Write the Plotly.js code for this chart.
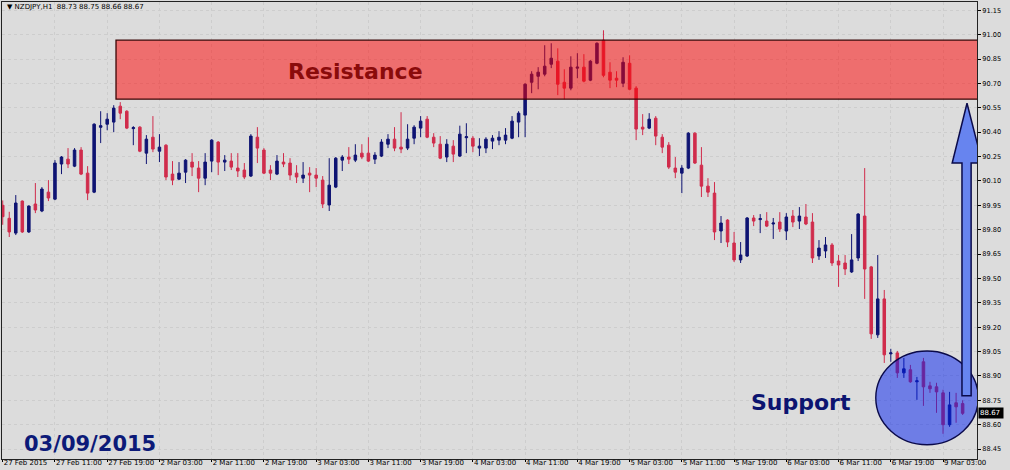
<!DOCTYPE html>
<html>
<head>
<meta charset="utf-8">
<script src="https://cdn.plot.ly/plotly-3.0.1.min.js"></script>
<style>
  html, body { margin: 0; padding: 0; background: #dcdcdc; }
  #chart { width: 1010px; height: 470px; }
</style>
</head>
<body>
<div id="chart"></div>
<script>
// NZDJPY H1 candles, 27 Feb 2015 03:00 -> 9 Mar 2015 06:00
const openP = [
  89.95, 89.87, 89.779, 89.976, 89.786, 89.958, 89.915, 90.031, 89.988, 90.204,
  90.234, 90.191, 90.29, 90.148, 90.031, 90.43, 90.449, 90.462, 90.56, 90.529,
  90.422, 90.431, 90.271, 90.369, 90.283, 90.32, 90.142, 90.111, 90.154, 90.216,
  90.179, 90.117, 90.222, 90.339, 90.216, 90.222, 90.179, 90.167, 90.13, 90.369,
  90.29, 90.167, 90.142, 90.216, 90.21, 90.148, 90.117, 90.148, 90.136, 90.105,
  89.952, 90.062, 90.228, 90.247, 90.228, 90.271, 90.271, 90.234, 90.253, 90.326,
  90.357, 90.308, 90.302, 90.363, 90.425, 90.48, 90.369, 90.326, 90.247, 90.314,
  90.253, 90.366, 90.363, 90.302, 90.302, 90.345, 90.351, 90.351, 90.363, 90.462,
  90.505, 90.707, 90.744, 90.757, 90.818, 90.837, 90.707, 90.671, 90.794, 90.80,
  90.72, 90.824, 90.966, 90.769, 90.732, 90.701, 90.824, 90.671, 90.431, 90.425,
  90.486, 90.369, 90.32, 90.179, 90.148, 90.179, 90.394, 90.197, 90.068, 90.025,
  89.792, 89.859, 89.718, 89.614, 89.638, 89.872, 89.862, 89.853, 89.835, 89.847,
  89.792, 89.884, 89.853, 89.878, 89.847, 89.638, 89.669, 89.706, 89.607, 89.595,
  89.54, 89.626, 89.884, 89.571, 89.153, 89.374, 89.036, 89.042, 88.919, 88.938,
  88.864, 88.987, 88.839, 88.833, 88.796, 88.60, 88.735, 88.73
];
const highP = [
  89.98, 89.91, 90.013, 89.98, 89.95, 90.087, 90.062, 90.105, 90.228, 90.253,
  90.302, 90.302, 90.308, 90.191, 90.455, 90.529, 90.517, 90.566, 90.585, 90.535,
  90.437, 90.437, 90.382, 90.499, 90.388, 90.326, 90.222, 90.216, 90.234, 90.271,
  90.222, 90.271, 90.357, 90.345, 90.259, 90.271, 90.271, 90.21, 90.388, 90.431,
  90.302, 90.197, 90.259, 90.271, 90.24, 90.197, 90.216, 90.185, 90.179, 90.13,
  90.24, 90.247, 90.259, 90.308, 90.326, 90.326, 90.369, 90.277, 90.357, 90.388,
  90.431, 90.523, 90.449, 90.443, 90.499, 90.499, 90.394, 90.376, 90.357, 90.351,
  90.44, 90.455, 90.376, 90.363, 90.369, 90.382, 90.406, 90.425, 90.499, 90.529,
  90.701, 90.775, 90.80, 90.935, 90.947, 90.916, 90.787, 90.867, 90.886, 90.88,
  90.843, 90.953, 91.027, 90.83, 90.775, 90.861, 90.873, 90.683, 90.511, 90.517,
  90.499, 90.388, 90.339, 90.247, 90.197, 90.40, 90.40, 90.308, 90.117, 90.093,
  89.884, 89.865, 89.786, 89.724, 89.878, 89.89, 89.896, 89.908, 89.872, 89.908,
  89.902, 89.921, 89.939, 89.958, 89.902, 89.736, 89.755, 89.718, 89.644, 89.644,
  89.773, 89.902, 90.179, 89.577, 89.644, 89.429, 89.067, 89.054, 89.011, 88.968,
  88.894, 89.011, 88.864, 88.858, 88.815, 88.802, 88.796, 88.75
];
const lowP = [
  89.83, 89.755, 89.767, 89.78, 89.78, 89.902, 89.908, 89.976, 89.982, 90.142,
  90.179, 90.185, 90.136, 89.982, 90.025, 90.333, 90.412, 90.40, 90.48, 90.419,
  90.32, 90.277, 90.204, 90.277, 90.216, 90.105, 90.074, 90.105, 90.087, 90.13,
  90.031, 90.074, 90.154, 90.136, 90.161, 90.167, 90.124, 90.111, 90.124, 90.21,
  90.142, 90.105, 90.136, 90.185, 90.105, 90.087, 90.087, 90.031, 90.062, 89.933,
  89.915, 90.056, 90.161, 90.204, 90.216, 90.234, 90.216, 90.204, 90.247, 90.302,
  90.283, 90.271, 90.29, 90.326, 90.369, 90.363, 90.308, 90.234, 90.216, 90.216,
  90.247, 90.271, 90.277, 90.253, 90.271, 90.296, 90.32, 90.326, 90.357, 90.369,
  90.369, 90.64, 90.664, 90.744, 90.794, 90.628, 90.603, 90.658, 90.732, 90.707,
  90.714, 90.818, 90.738, 90.671, 90.677, 90.677, 90.658, 90.351, 90.382, 90.419,
  90.32, 90.271, 90.173, 90.117, 90.025, 90.173, 90.204, 90.001, 90.001, 89.736,
  89.718, 89.693, 89.601, 89.595, 89.632, 89.822, 89.779, 89.816, 89.743, 89.786,
  89.736, 89.816, 89.804, 89.828, 89.595, 89.614, 89.626, 89.577, 89.448, 89.521,
  89.534, 89.607, 89.374, 89.128, 89.134, 88.98, 88.987, 88.888, 88.888, 88.858,
  88.753, 88.716, 88.796, 88.673, 88.544, 88.587, 88.612, 88.66
];
const closeP = [
  89.88, 89.786, 89.964, 89.786, 89.945, 89.921, 90.05, 89.995, 90.21, 90.247,
  90.204, 90.29, 90.142, 90.025, 90.449, 90.44, 90.48, 90.548, 90.517, 90.425,
  90.428, 90.283, 90.357, 90.296, 90.308, 90.124, 90.105, 90.148, 90.228, 90.185,
  90.117, 90.216, 90.351, 90.216, 90.228, 90.185, 90.161, 90.124, 90.376, 90.302,
  90.148, 90.148, 90.222, 90.204, 90.136, 90.124, 90.136, 90.136, 90.117, 89.958,
  90.074, 90.24, 90.247, 90.234, 90.259, 90.247, 90.222, 90.259, 90.339, 90.357,
  90.302, 90.296, 90.357, 90.431, 90.468, 90.369, 90.333, 90.24, 90.326, 90.265,
  90.388, 90.372, 90.314, 90.314, 90.357, 90.363, 90.369, 90.382, 90.468, 90.517,
  90.695, 90.757, 90.769, 90.806, 90.855, 90.695, 90.671, 90.80, 90.80, 90.714,
  90.837, 90.947, 90.75, 90.72, 90.72, 90.83, 90.664, 90.419, 90.419, 90.48,
  90.376, 90.308, 90.185, 90.154, 90.179, 90.394, 90.21, 90.068, 90.031, 89.786,
  89.841, 89.724, 89.614, 89.644, 89.872, 89.853, 89.868, 89.822, 89.841, 89.804,
  89.878, 89.847, 89.884, 89.835, 89.626, 89.687, 89.706, 89.595, 89.583, 89.558,
  89.614, 89.896, 89.558, 89.159, 89.374, 89.03, 89.042, 88.919, 88.944, 88.864,
  88.87, 88.833, 88.821, 88.802, 88.60, 88.722, 88.71, 88.67
];

// time axis labels (every 8 hourly bars)
const timeTickIndex = [0, 8, 16, 24, 32, 40, 48, 56, 64, 72, 80, 88, 96, 104, 112, 120, 128, 136, 144];
const timeTickLabels = ['27 Feb 2015', '27 Feb 11:00', '27 Feb 19:00', '2 Mar 03:00', '2 Mar 11:00',
  '2 Mar 19:00', '3 Mar 03:00', '3 Mar 11:00', '3 Mar 19:00', '4 Mar 03:00', '4 Mar 11:00',
  '4 Mar 19:00', '5 Mar 03:00', '5 Mar 11:00', '5 Mar 19:00', '6 Mar 03:00', '6 Mar 11:00',
  '6 Mar 19:00', '9 Mar 03:00'];

// price axis labels
const priceTicks = [88.45, 88.60, 88.75, 88.90, 89.05, 89.20, 89.35, 89.50, 89.65, 89.80,
  89.95, 90.10, 90.25, 90.40, 90.55, 90.70, 90.85, 91.00, 91.15];
const priceTickLabels = ['88.45', '88.60', '88.75', '88.90', '89.05', '89.20', '89.35', '89.50',
  '89.65', '89.80', '89.95', '90.10', '90.25', '90.40', '90.55', '90.70', '90.85', '91.00', '91.15'];

// drawn zones
const resistanceZone = { fromBar: 17.35, low: 90.603, high: 90.966 };
const supportZone = { fromBar: 133.7, toBar: 149.4, low: 88.477, high: 89.054 };
const arrowGeom = { shaftL: 146.9, shaftR: 148.3, headL: 145.4, headR: 150.0, tipX: 147.67,
  base: 88.778, headBase: 90.21, tip: 90.578 };

const barIndex = openP.map((_, i) => i);
const last = openP.length - 1;

const BLUE = '#0f1473';
const RED = '#d02c4c';

const trace = {
  type: 'candlestick',
  x: barIndex,
  open: openP, high: highP, low: lowP, close: closeP,
  increasing: { line: { color: BLUE, width: 1 }, fillcolor: BLUE },
  decreasing: { line: { color: RED, width: 1 }, fillcolor: RED },
  whiskerwidth: 0,
  hoverinfo: 'skip',
  showlegend: false
};

const a = arrowGeom;
const arrowPath = `M ${a.shaftL},${a.base} L ${a.shaftL},${a.headBase} L ${a.headL},${a.headBase} ` +
  `L ${a.tipX},${a.tip} L ${a.headR},${a.headBase} L ${a.shaftR},${a.headBase} L ${a.shaftR},${a.base} Z`;

const f = v => v.toFixed(2);

const layout = {
  width: 1010, height: 470,
  margin: { l: 2, r: 33, t: 2, b: 11, pad: 0 },
  paper_bgcolor: '#dcdcdc',
  plot_bgcolor: '#dcdcdc',
  showlegend: false,
  boxgap: 0.45,
  hovermode: false,
  font: { family: 'DejaVu Sans', size: 7, color: '#000' },
  xaxis: {
    type: 'linear',
    range: [-0.11, 149.2],
    rangeslider: { visible: false },
    tickvals: timeTickIndex,
    ticktext: timeTickLabels,
    tickangle: 0,
    ticks: 'outside', ticklen: 2, tickcolor: '#000', tickwidth: 1,
    ticklabelposition: 'outside right',
    ticklabelstandoff: -3,
    tickfont: { family: 'DejaVu Sans', size: 7, color: '#000' },
    showgrid: true, gridcolor: '#cdcdcd', griddash: 'dot', gridwidth: 1,
    showline: true, linecolor: '#222', linewidth: 1, mirror: true,
    zeroline: false, fixedrange: true, automargin: false
  },
  yaxis: {
    side: 'right',
    range: [88.389, 91.201],
    tickvals: priceTicks,
    ticktext: priceTickLabels,
    ticks: 'outside', ticklen: 3, tickcolor: '#000', tickwidth: 1,
    tickfont: { family: 'DejaVu Sans', size: 6.6, color: '#000' },
    showgrid: true, gridcolor: '#cdcdcd', griddash: 'dot', gridwidth: 1,
    showline: true, linecolor: '#222', linewidth: 1, mirror: true,
    zeroline: false, fixedrange: true, automargin: false
  },
  shapes: [
    { type: 'rect', xref: 'x', yref: 'y', layer: 'above',
      x0: resistanceZone.fromBar, x1: 150, y0: resistanceZone.low, y1: resistanceZone.high,
      fillcolor: 'rgba(255,0,0,0.5)', line: { color: '#3a0606', width: 1.3 } },
    { type: 'circle', xref: 'x', yref: 'y', layer: 'above',
      x0: supportZone.fromBar, x1: supportZone.toBar, y0: supportZone.low, y1: supportZone.high,
      fillcolor: 'rgba(0,30,240,0.5)', line: { color: '#0a0a4a', width: 1.4 } },
    { type: 'path', xref: 'x', yref: 'y', layer: 'above', path: arrowPath,
      fillcolor: '#6784ef', line: { color: '#0a0a4a', width: 1.5 } }
  ],
  annotations: [
    { xref: 'paper', yref: 'paper', x: 0.003, y: 0.989, xanchor: 'left', yanchor: 'middle',
      showarrow: false,
      text: '\u25BC NZDJPY,H1  ' + [openP[last], highP[last], lowP[last], closeP[last]].map(f).join(' '),
      font: { family: 'DejaVu Sans', size: 7, color: '#000' } },
    { xref: 'x', yref: 'y', x: 54.0, y: 90.775, xanchor: 'center', yanchor: 'middle', showarrow: false,
      text: 'Resistance', font: { family: 'DejaVu Sans', size: 22, weight: 'bold', color: '#8a0b0b' } },
    { xref: 'x', yref: 'y', x: 122.2, y: 88.735, xanchor: 'center', yanchor: 'middle', showarrow: false,
      text: 'Support', font: { family: 'DejaVu Sans', size: 22, weight: 'bold', color: '#0c1470' } },
    { xref: 'x', yref: 'y', x: 13.4, y: 88.483, xanchor: 'center', yanchor: 'middle', showarrow: false,
      text: '03/09/2015', font: { family: 'DejaVu Sans', size: 21, weight: 'bold', color: '#0c1a78' } },
    { xref: 'paper', yref: 'y', x: 1, y: closeP[last], xanchor: 'left', yanchor: 'middle', xshift: 1,
      showarrow: false, text: f(closeP[last]) + ' ', bgcolor: '#000', borderpad: 1,
      font: { family: 'DejaVu Sans', size: 7, color: '#fff' } }
  ]
};

Plotly.newPlot('chart', [trace], layout, { staticPlot: true, displayModeBar: false });
</script>
</body>
</html>
